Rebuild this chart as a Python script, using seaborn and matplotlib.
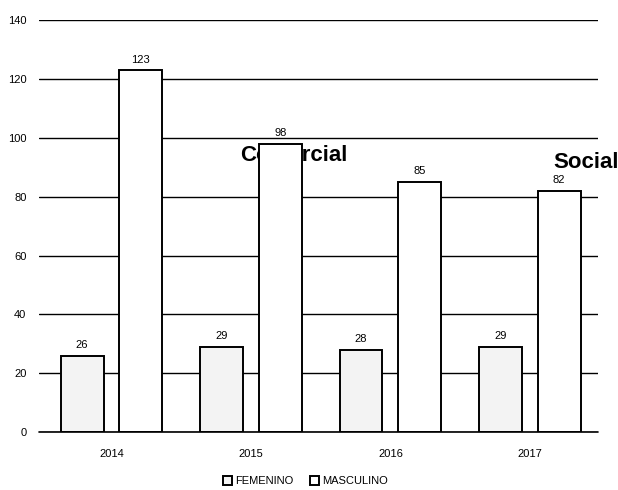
import matplotlib
matplotlib.use("Agg")
import matplotlib.pyplot as plt
import seaborn as sns
import pandas as pd

# data
years = ["2014", "2015", "2016", "2017"]
femenino = [26, 29, 28, 29]
masculino = [123, 98, 85, 82]
series_names = ["FEMENINO", "MASCULINO"]

df = pd.DataFrame({
    "year": years * 2,
    "count": femenino + masculino,
    "sexo": [series_names[0]] * len(years) + [series_names[1]] * len(years),
})

sns.set_style("white")
plt.rcParams["font.family"] = ["Liberation Sans", "DejaVu Sans"]
plt.rcParams["text.color"] = "black"
plt.rcParams["xtick.color"] = "black"
plt.rcParams["ytick.color"] = "black"

fig = plt.figure(figsize=(6.18, 4.90), dpi=100)
ax = fig.add_axes([0.063, 0.118, 0.905, 0.841])

graph = sns.barplot(data=df, x="year", y="count", hue="sexo", ax=ax,
                    palette=["#f3f3f3", "white"], width=0.84, gap=0.27,
                    edgecolor="black", linewidth=1.4, zorder=3)

for c in graph.containers:
    graph.bar_label(c, fontsize=8, padding=4, color="black")

ax.set_ylim(0, 140)
ax.set_xlim(-0.52, 3.49)
ax.set_yticks(range(0, 141, 20))
ax.grid(axis="y", color="black", linewidth=1, zorder=1)
ax.grid(axis="x", visible=False)
ax.axhline(0, color="black", linewidth=1.2, zorder=4, clip_on=False)
for s in ax.spines.values():
    s.set_visible(False)
ax.tick_params(axis="both", length=0, labelsize=8)
ax.tick_params(axis="y", pad=9)
ax.tick_params(axis="x", pad=12)
ax.set_xlabel("")
ax.set_ylabel("")

# stray text from the scanned page, partly hidden behind the bars
ax.text(0.92, 94, "Comercial", fontsize=16, fontweight="bold", color="black",
        zorder=2, va="center")
ax.text(3.17, 91.5, "Social", fontsize=16, fontweight="bold", color="black",
        zorder=2, va="center", clip_on=False)

ax.legend(loc="center", bbox_to_anchor=(0.494, 0.018), bbox_transform=fig.transFigure,
          ncol=2, frameon=False, fontsize=8, handlelength=0.8, handleheight=0.8,
          handletextpad=0.3, columnspacing=1.5)

fig.savefig("out.png", dpi=100)
